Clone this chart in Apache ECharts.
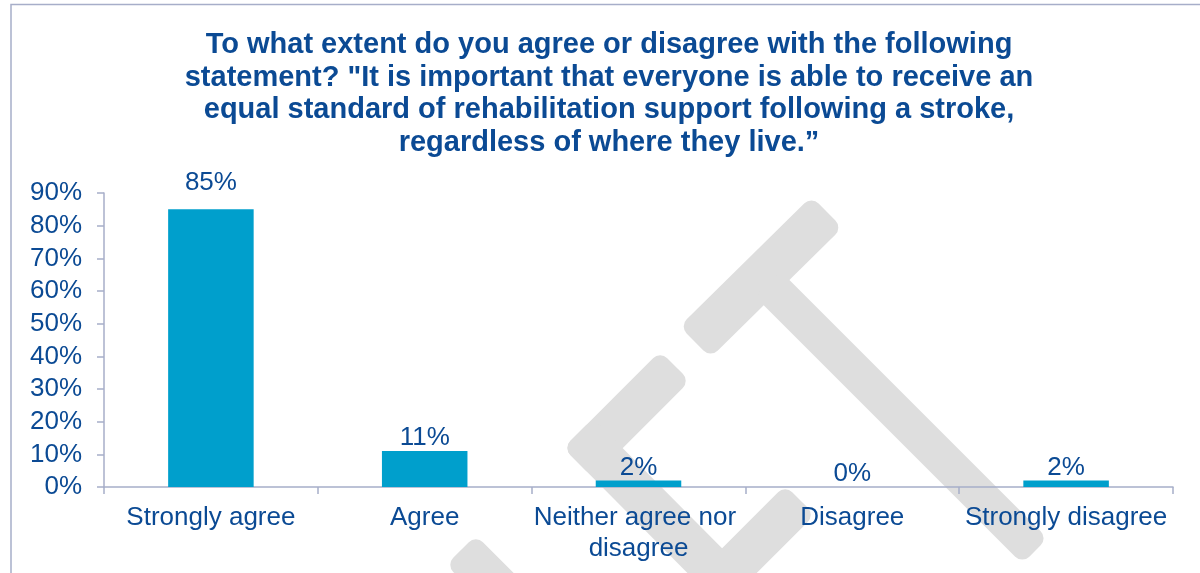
<!DOCTYPE html>
<html>
<head>
<meta charset="utf-8">
<script src="https://cdn.jsdelivr.net/npm/echarts@6/dist/echarts.min.js"></script>
<style>
  html, body { margin: 0; padding: 0; background: #ffffff; }
  #chart { width: 1200px; height: 573px; }
</style>
</head>
<body>
<div id="chart"></div>
<script>
// Survey responses (percent of respondents)
const categories = ['Strongly agree', 'Agree', 'Neither agree nor disagree', 'Disagree', 'Strongly disagree'];
const values = [85, 11, 2, 0, 2];
const yTicks = [0, 10, 20, 30, 40, 50, 60, 70, 80, 90];

const titleLines = [
  'To what extent do you agree or disagree with the following',
  'statement? "It is important that everyone is able to receive an',
  'equal standard of rehabilitation support following a stroke,',
  'regardless of where they live.\u201d'
];

const FONT = 'Liberation Sans, Arial, sans-serif';
const TEXT = '#0b4a94';
const BAR = '#009fcc';
const AXIS = '#a7aec9';
const MARK = '#dedede';

// Light grey background logo built from rounded strokes
function stroke(x1, y1, x2, y2, w, ext1, ext2) {
  const dx = x2 - x1, dy = y2 - y1;
  const len = Math.sqrt(dx * dx + dy * dy);
  const ux = dx / len, uy = dy / len;
  const sx = x1 - ux * (ext1 || 0), sy = y1 - uy * (ext1 || 0);
  const ex = x2 + ux * (ext2 || 0), ey = y2 + uy * (ext2 || 0);
  const L = len + (ext1 || 0) + (ext2 || 0);
  return {
    type: 'rect',
    x: (sx + ex) / 2,
    y: (sy + ey) / 2,
    rotation: -Math.atan2(dy, dx),
    shape: { x: -L / 2, y: -w / 2, width: L, height: w, r: 10 },
    style: { fill: MARK },
    silent: true,
    z: -10
  };
}

const logo = [
  stroke(695, 342, 827, 212, 44),
  stroke(777, 293, 1035, 551, 36, 14, 0),
  stroke(675, 366, 593, 448, 42, 0, 21),
  stroke(593, 448, 722, 578, 42, 21, 21),
  stroke(722, 578, 800, 500, 42, 21, 0),
  stroke(461, 550, 540, 629, 42)
];

// The tallest bar's label sits a little higher above its bar
const barData = values.map(function (v, i) {
  return i === 0 ? { value: v, label: { distance: 14 } } : v;
});

const chart = echarts.init(document.getElementById('chart'), null, { renderer: 'canvas' });

chart.setOption({
  backgroundColor: '#ffffff',
  animation: false,
  graphic: [
    {
      type: 'polyline',
      shape: { points: [[11, 573], [11, 4.5], [1200, 4.5]] },
      style: { stroke: AXIS, lineWidth: 1.5, fill: null },
      silent: true,
      z: -5
    },
    {
      type: 'text',
      x: 609,
      y: 29,
      silent: true,
      style: {
        text: titleLines.join('\n'),
        align: 'center',
        verticalAlign: 'top',
        fill: TEXT,
        font: 'bold 29px ' + FONT,
        lineHeight: 32.5
      }
    }
  ].concat(logo),
  grid: { left: 104, right: 27, top: 193, bottom: 86, containLabel: false },
  xAxis: {
    type: 'category',
    data: categories,
    axisLine: { show: true, lineStyle: { color: AXIS, width: 1.5 } },
    axisTick: { show: true, length: 7, alignWithLabel: false, lineStyle: { color: AXIS, width: 1.5 } },
    axisLabel: {
      color: TEXT,
      fontFamily: FONT,
      fontSize: 26,
      lineHeight: 31,
      margin: 15,
      interval: 0,
      width: 214,
      overflow: 'break'
    }
  },
  yAxis: {
    type: 'value',
    min: 0,
    max: 90,
    interval: 10,
    splitLine: { show: false },
    axisLine: { show: true, lineStyle: { color: AXIS, width: 1.5 } },
    axisTick: { show: true, length: 7, lineStyle: { color: AXIS, width: 1.5 } },
    axisLabel: {
      color: TEXT,
      fontFamily: FONT,
      fontSize: 26,
      margin: 22,
      customValues: yTicks,
      formatter: function (v) { return v + '%'; }
    }
  },
  series: [{
    type: 'bar',
    data: barData,
    barWidth: '40%',
    itemStyle: { color: BAR },
    label: {
      show: true,
      position: 'top',
      distance: 0,
      color: TEXT,
      fontFamily: FONT,
      fontSize: 26,
      formatter: function (p) { return p.value + '%'; }
    },
    z: 2
  }]
});
</script>
</body>
</html>
